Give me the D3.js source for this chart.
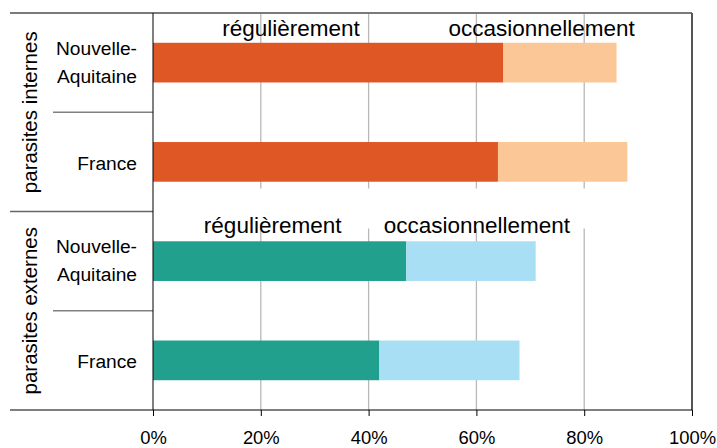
<!DOCTYPE html>
<html>
<head>
<meta charset="utf-8">
<script src="https://cdn.jsdelivr.net/npm/d3@7"></script>
<style>
  body { margin: 0; background: #fff; }
  text { font-family: "Liberation Sans", Arial, sans-serif; fill: #000; }
</style>
</head>
<body>
<svg id="chart"></svg>
<script>
var WIDTH = 717;
var HEIGHT = 448;

// data
var GROUPS = ["parasites internes", "parasites externes"];
var REGIONS = ["Nouvelle-Aquitaine", "France"];
var SERIES = ["régulièrement", "occasionnellement"];
var REGULIER = [[65, 64], [47, 42]];     // per group, per region
var OCCASION = [[21, 24], [24, 26]];
var TICKS = [0, 20, 40, 60, 80, 100];
// where the series names sit over each panel (in % of the x axis)
var LABEL_POS = [[25.6, 72.1], [22.2, 60.1]];
var COLORS = [["#E05726", "#FBC796"], ["#21A08E", "#A9DFF5"]];

var LEFT = 153, RIGHT = 692, TOP = 13, BOTTOM = 410;

var svg = d3.select("#chart").attr("width", WIDTH).attr("height", HEIGHT);

var x = d3.scaleLinear().domain([0, 100]).range([LEFT, RIGHT]);
var yGroup = d3.scaleBand().domain(GROUPS).range([TOP, BOTTOM]);
var yRegion = d3.scaleBand().domain(REGIONS)
  .range([0, yGroup.bandwidth()]).paddingInner(0.6).paddingOuter(0.3);

// gridlines, cut off in the gap where the second panel's labels sit
var gridSpans = [[0, -23], [17, 0]];
GROUPS.forEach(function (g, gi) {
  var y0 = yGroup(g) + gridSpans[gi][0];
  var y1 = yGroup(g) + yGroup.bandwidth() + gridSpans[gi][1];
  svg.append("g").selectAll("line")
    .data(TICKS.slice(1, -1))
    .enter().append("line")
    .attr("x1", function (d) { return x(d); })
    .attr("x2", function (d) { return x(d); })
    .attr("y1", y0).attr("y2", y1)
    .attr("stroke", "#b8b8b8").attr("stroke-width", 1.3);
});

// bars
GROUPS.forEach(function (g, gi) {
  var rows = REGIONS.map(function (r, ri) {
    return { region: r, reg: REGULIER[gi][ri], occ: OCCASION[gi][ri] };
  });
  var panel = svg.append("g").attr("transform", "translate(0," + yGroup(g) + ")");
  panel.selectAll(".reg").data(rows).enter().append("rect")
    .attr("class", "reg")
    .attr("x", x(0))
    .attr("y", function (d) { return yRegion(d.region); })
    .attr("width", function (d) { return x(d.reg) - x(0); })
    .attr("height", yRegion.bandwidth())
    .attr("fill", COLORS[gi][0]);
  panel.selectAll(".occ").data(rows).enter().append("rect")
    .attr("class", "occ")
    .attr("x", function (d) { return x(d.reg); })
    .attr("y", function (d) { return yRegion(d.region); })
    .attr("width", function (d) { return x(d.reg + d.occ) - x(d.reg); })
    .attr("height", yRegion.bandwidth())
    .attr("fill", COLORS[gi][1]);

  // series names
  panel.selectAll(".slabel").data(SERIES).enter().append("text")
    .attr("class", "slabel")
    .attr("x", function (d, i) { return x(LABEL_POS[gi][i]); })
    .attr("y", gi === 0 ? 23 : 21)
    .attr("text-anchor", "middle")
    .style("font-size", "22.5px")
    .text(function (d) { return d; });

  // region labels
  panel.selectAll(".rlabel").data(REGIONS).enter().append("text")
    .attr("class", "rlabel")
    .attr("text-anchor", "end")
    .attr("x", 137)
    .attr("y", function (d) { return yRegion(d) + yRegion.bandwidth() / 2; })
    .style("font-size", "19.2px")
    .each(function (d) {
      var parts = d.indexOf("-") > 0 ? [d.split("-")[0] + "-", d.split("-")[1]] : [d];
      var t = d3.select(this);
      parts.forEach(function (p, i) {
        t.append("tspan")
          .attr("x", 137)
          .attr("dy", i === 0 ? (parts.length === 1 ? "0.42em" : "-0.4em") : "1.46em")
          .text(p);
      });
    });

  // separator between the two regions
  panel.append("line")
    .attr("x1", 53).attr("x2", LEFT)
    .attr("y1", yGroup.bandwidth() / 2).attr("y2", yGroup.bandwidth() / 2)
    .attr("stroke", "#808080").attr("stroke-width", 1.3);

  // group label
  panel.append("text")
    .attr("transform", "translate(30," + (yGroup.bandwidth() / 2) + ") rotate(-90)")
    .attr("text-anchor", "middle")
    .attr("dy", "0.35em")
    .style("font-size", "20.5px")
    .text(g);
});

// frame
svg.append("line").attr("x1", 10).attr("x2", RIGHT).attr("y1", TOP).attr("y2", TOP)
  .attr("stroke", "#7a7a7a").attr("stroke-width", 2);
svg.append("line").attr("x1", RIGHT).attr("x2", RIGHT).attr("y1", TOP).attr("y2", BOTTOM)
  .attr("stroke", "#555").attr("stroke-width", 2);
svg.append("line").attr("x1", 10).attr("x2", LEFT)
  .attr("y1", yGroup(GROUPS[1])).attr("y2", yGroup(GROUPS[1]))
  .attr("stroke", "#666").attr("stroke-width", 1.3);
svg.append("line").attr("x1", LEFT).attr("x2", LEFT).attr("y1", TOP).attr("y2", BOTTOM)
  .attr("stroke", "#000").attr("stroke-width", 1);

// x axis
var xAxis = d3.axisBottom(x).tickValues(TICKS)
  .tickFormat(function (d) { return d + "%"; })
  .tickSize(6).tickSizeOuter(0).tickPadding(15);
var ax = svg.append("g").attr("transform", "translate(0," + BOTTOM + ")").call(xAxis);
ax.select(".domain").remove();
ax.selectAll("text").style("font-size", "18.4px").style("font-family", "'Liberation Sans', Arial, sans-serif");
ax.selectAll("line").attr("stroke", "#000");
svg.append("line").attr("x1", 10).attr("x2", RIGHT).attr("y1", BOTTOM).attr("y2", BOTTOM)
  .attr("stroke", "#000").attr("stroke-width", 1.2);
</script>
</body>
</html>
